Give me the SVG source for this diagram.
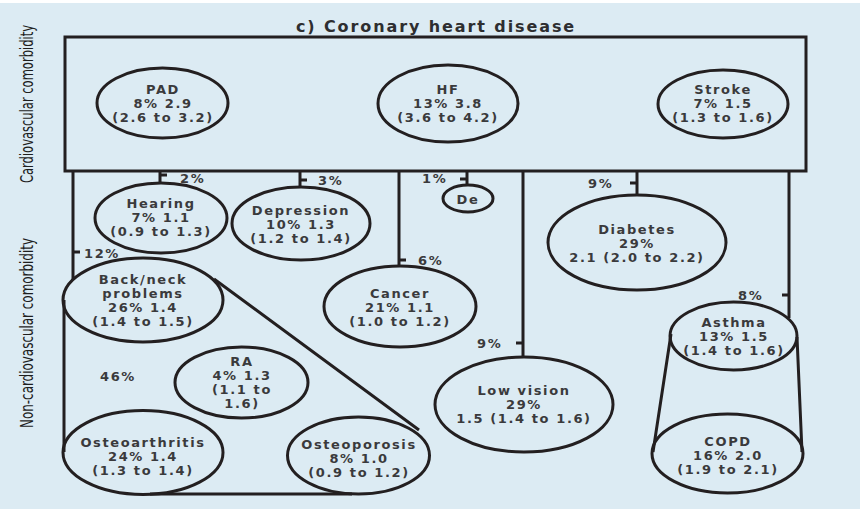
<svg xmlns="http://www.w3.org/2000/svg" width="860" height="509" viewBox="0 0 860 509">
<style>
.n{fill:none;stroke:#231f20;stroke-width:3}
.l{fill:none;stroke:#231f20;stroke-width:3}
.t{font-family:"DejaVu Sans",sans-serif;font-weight:bold;font-size:13px;letter-spacing:1.6px;fill:#3a3a3c;text-anchor:middle;dominant-baseline:central}
.p{font-family:"DejaVu Sans",sans-serif;font-weight:bold;font-size:13px;letter-spacing:1.6px;fill:#3a3a3c;dominant-baseline:central}
.ax{font-family:"DejaVu Sans Condensed","DejaVu Sans",sans-serif;font-size:17px;fill:#1e1e1e;text-anchor:middle;dominant-baseline:central}
.ti{font-family:"DejaVu Sans",sans-serif;font-weight:bold;font-size:16px;letter-spacing:1.9px;fill:#2e2e30;text-anchor:middle}
</style>
<rect x="0" y="0" width="860" height="509" fill="#dcebf3"/>
<rect x="0" y="0" width="860" height="3" fill="#ffffff"/>
<text class="ti" x="436" y="32">c) Coronary heart disease</text>
<text class="ax" transform="translate(27,104) rotate(-90)" textLength="158" lengthAdjust="spacingAndGlyphs">Cardiovascular comorbidity</text>
<text class="ax" transform="translate(27,333) rotate(-90)" textLength="190" lengthAdjust="spacingAndGlyphs">Non-cardiovascular comorbidity</text>

<g id="connectors">
<rect class="l" x="65" y="37" width="741" height="134"/>
<path class="l" d="M73 171V280M73 252H80"/>
<path class="l" d="M160 171V184M160 175H167"/>
<path class="l" d="M300 171V187M300 180H307"/>
<path class="l" d="M399 171V266M399 260H406"/>
<path class="l" d="M467 171V185M467 179H460"/>
<path class="l" d="M523 171V357M523 343H516"/>
<path class="l" d="M637 171V195M637 183H630"/>
<path class="l" d="M789 171V318M789 295H782"/>
<path class="l" d="M64 300V452M214 279L419 430M150 494H352"/>
<path class="l" d="M671 334L653 452M797 337L802 452"/>
<text class="p" x="180" y="178">2%</text>
<text class="p" x="318" y="180">3%</text>
<text class="p" x="422" y="178">1%</text>
<text class="p" x="418" y="260">6%</text>
<text class="p" x="84" y="253">12%</text>
<text class="p" x="477" y="343">9%</text>
<text class="p" x="588" y="183">9%</text>
<text class="p" x="738" y="295">8%</text>
<text class="p" x="100" y="376">46%</text>
</g>

<g id="pad"><ellipse class="n" cx="162.5" cy="103" rx="65.5" ry="35"/>
<text class="t" x="163" y="89">PAD</text><text class="t" x="163" y="103">8% 2.9</text><text class="t" x="163" y="117">(2.6 to 3.2)</text></g>
<g id="hf"><ellipse class="n" cx="448" cy="103.5" rx="70" ry="38.5"/>
<text class="t" x="448" y="89">HF</text><text class="t" x="448" y="103">13% 3.8</text><text class="t" x="448" y="117">(3.6 to 4.2)</text></g>
<g id="stroke"><ellipse class="n" cx="723" cy="104" rx="65" ry="34"/>
<text class="t" x="723" y="89">Stroke</text><text class="t" x="723" y="103">7% 1.5</text><text class="t" x="723" y="117">(1.3 to 1.6)</text></g>

<g id="hearing"><ellipse class="n" cx="161" cy="218" rx="66" ry="35"/>
<text class="t" x="161" y="203">Hearing</text><text class="t" x="161" y="217">7% 1.1</text><text class="t" x="161" y="231">(0.9 to 1.3)</text></g>
<g id="depression"><ellipse class="n" cx="301" cy="223.5" rx="69" ry="36.5"/>
<text class="t" x="301" y="210">Depression</text><text class="t" x="301" y="224">10% 1.3</text><text class="t" x="301" y="238">(1.2 to 1.4)</text></g>
<g id="de"><ellipse class="n" cx="468" cy="198.5" rx="25" ry="13.5"/>
<text class="t" x="468" y="199">De</text></g>
<g id="cancer"><ellipse class="n" cx="400" cy="306.5" rx="76" ry="40.5"/>
<text class="t" x="400" y="293">Cancer</text><text class="t" x="400" y="307">21% 1.1</text><text class="t" x="400" y="321">(1.0 to 1.2)</text></g>
<g id="diabetes"><ellipse class="n" cx="637" cy="242.5" rx="89" ry="47.5"/>
<text class="t" x="637" y="229">Diabetes</text><text class="t" x="637" y="243">29%</text><text class="t" x="637" y="257">2.1 (2.0 to 2.2)</text></g>
<g id="lowvision"><ellipse class="n" cx="524" cy="404.5" rx="89" ry="47.5"/>
<text class="t" x="524" y="390">Low vision</text><text class="t" x="524" y="404">29%</text><text class="t" x="524" y="418">1.5 (1.4 to 1.6)</text></g>
<g id="backneck"><ellipse class="n" cx="143" cy="300" rx="80" ry="42"/>
<text class="t" x="143" y="279">Back/neck</text><text class="t" x="143" y="293">problems</text><text class="t" x="143" y="307">26% 1.4</text><text class="t" x="143" y="321">(1.4 to 1.5)</text></g>
<g id="ra"><ellipse class="n" cx="241.5" cy="382.5" rx="66.5" ry="35.5"/>
<text class="t" x="242" y="361">RA</text><text class="t" x="242" y="375">4% 1.3</text><text class="t" x="242" y="389">(1.1 to</text><text class="t" x="242" y="403">1.6)</text></g>
<g id="osteoarthritis"><ellipse class="n" cx="143" cy="452.5" rx="80" ry="42"/>
<text class="t" x="143" y="442">Osteoarthritis</text><text class="t" x="143" y="456">24% 1.4</text><text class="t" x="143" y="470">(1.3 to 1.4)</text></g>
<g id="osteoporosis"><ellipse class="n" cx="358.5" cy="455.5" rx="71" ry="38.5"/>
<text class="t" x="359" y="444">Osteoporosis</text><text class="t" x="359" y="458">8% 1.0</text><text class="t" x="359" y="472">(0.9 to 1.2)</text></g>
<g id="asthma"><ellipse class="n" cx="733.5" cy="336" rx="63.5" ry="34"/>
<text class="t" x="734" y="322">Asthma</text><text class="t" x="734" y="336">13% 1.5</text><text class="t" x="734" y="350">(1.4 to 1.6)</text></g>
<g id="copd"><ellipse class="n" cx="727.5" cy="453.5" rx="75.5" ry="39.5"/>
<text class="t" x="728" y="441">COPD</text><text class="t" x="728" y="455">16% 2.0</text><text class="t" x="728" y="469">(1.9 to 2.1)</text></g>
</svg>
